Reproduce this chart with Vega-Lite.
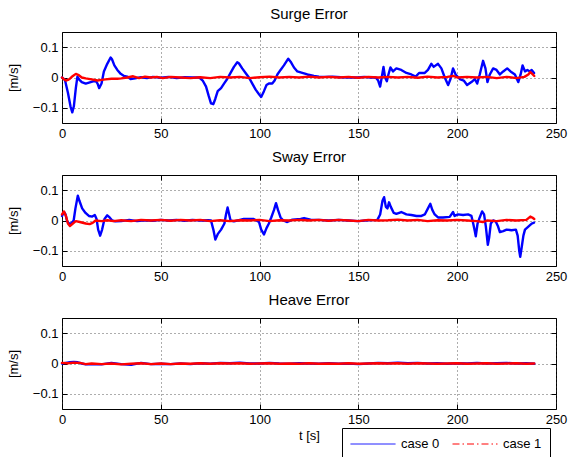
{
  "$schema": "https://vega.github.io/schema/vega-lite/v6.json",
  "background": "white",
  "padding": {"left": 6, "top": 6, "right": 5, "bottom": 0},
  "spacing": 8,
  "config": {
    "font": "Liberation Sans",
    "view": {"stroke": "black", "strokeWidth": 1},
    "axis": {
      "domain": false, "grid": true, "gridDash": [1, 3], "gridColor": "#333", "gridOpacity": 0.8,
      "ticks": true, "tickSize": -5, "tickColor": "black", "labelFontSize": 13, "labelColor": "black", "labelPadding": 9, "labelFlush": false,
      "titleFontSize": 13, "titleFontWeight": "normal", "titleColor": "black", "labelFont": "Liberation Sans", "titleFont": "Liberation Sans"
    },
    "title": {"fontSize": 15, "fontWeight": "normal", "color": "black", "offset": 10, "font": "Liberation Sans"},
    "line": {"strokeJoin": "round", "strokeCap": "round"}
  },
  "resolve": {"legend": {"color": "independent", "strokeDash": "independent"}},
  "datasets": {
    "surge": [
      {"t":0,"v":0,"c":"case 0"},{"t":1.5,"v":-0.008,"c":"case 0"},{"t":3,"v":-0.05,"c":"case 0"},{"t":4.3,"v":-0.095,"c":"case 0"},{"t":5.2,"v":-0.115,"c":"case 0"},{"t":6,"v":-0.095,"c":"case 0"},{"t":7,"v":-0.035,"c":"case 0"},{"t":7.8,"v":0.003,"c":"case 0"},{"t":8.6,"v":-0.006,"c":"case 0"},{"t":10,"v":-0.015,"c":"case 0"},{"t":12,"v":-0.02,"c":"case 0"},{"t":14.5,"v":-0.015,"c":"case 0"},{"t":17,"v":-0.01,"c":"case 0"},{"t":18,"v":-0.02,"c":"case 0"},{"t":18.8,"v":-0.035,"c":"case 0"},{"t":20,"v":-0.02,"c":"case 0"},{"t":21.2,"v":0.02,"c":"case 0"},{"t":22.9,"v":0.045,"c":"case 0"},{"t":24.6,"v":0.066,"c":"case 0"},{"t":25.3,"v":0.06,"c":"case 0"},{"t":26.5,"v":0.04,"c":"case 0"},{"t":28,"v":0.025,"c":"case 0"},{"t":29.7,"v":0.012,"c":"case 0"},{"t":31.4,"v":0.005,"c":"case 0"},{"t":33,"v":0.003,"c":"case 0"},{"t":34.7,"v":-0.005,"c":"case 0"},{"t":37,"v":-0.003,"c":"case 0"},{"t":40,"v":0.001,"c":"case 0"},{"t":43,"v":-0.002,"c":"case 0"},{"t":46,"v":0.002,"c":"case 0"},{"t":50,"v":-0.001,"c":"case 0"},{"t":54,"v":0.002,"c":"case 0"},{"t":58,"v":-0.002,"c":"case 0"},{"t":62,"v":0.001,"c":"case 0"},{"t":66,"v":0,"c":"case 0"},{"t":69.5,"v":0,"c":"case 0"},{"t":71.2,"v":-0.01,"c":"case 0"},{"t":72.9,"v":-0.03,"c":"case 0"},{"t":74.2,"v":-0.06,"c":"case 0"},{"t":75.4,"v":-0.085,"c":"case 0"},{"t":76.6,"v":-0.088,"c":"case 0"},{"t":77.6,"v":-0.07,"c":"case 0"},{"t":78.8,"v":-0.045,"c":"case 0"},{"t":80.5,"v":-0.035,"c":"case 0"},{"t":82,"v":-0.02,"c":"case 0"},{"t":83.6,"v":-0.005,"c":"case 0"},{"t":85.3,"v":0.015,"c":"case 0"},{"t":87,"v":0.035,"c":"case 0"},{"t":88.7,"v":0.05,"c":"case 0"},{"t":89.5,"v":0.047,"c":"case 0"},{"t":91.2,"v":0.03,"c":"case 0"},{"t":92.9,"v":0.015,"c":"case 0"},{"t":94.6,"v":0,"c":"case 0"},{"t":96.3,"v":-0.02,"c":"case 0"},{"t":98,"v":-0.04,"c":"case 0"},{"t":99.7,"v":-0.055,"c":"case 0"},{"t":100.8,"v":-0.064,"c":"case 0"},{"t":102.2,"v":-0.045,"c":"case 0"},{"t":103.5,"v":-0.025,"c":"case 0"},{"t":104.7,"v":-0.02,"c":"case 0"},{"t":106.4,"v":-0.02,"c":"case 0"},{"t":107.6,"v":-0.01,"c":"case 0"},{"t":109,"v":0.01,"c":"case 0"},{"t":110.6,"v":0.025,"c":"case 0"},{"t":112.3,"v":0.04,"c":"case 0"},{"t":114.5,"v":0.062,"c":"case 0"},{"t":115.7,"v":0.052,"c":"case 0"},{"t":117.4,"v":0.033,"c":"case 0"},{"t":119.1,"v":0.02,"c":"case 0"},{"t":121.6,"v":0.015,"c":"case 0"},{"t":124.2,"v":0.01,"c":"case 0"},{"t":127.5,"v":0.005,"c":"case 0"},{"t":130,"v":0.003,"c":"case 0"},{"t":133,"v":0.002,"c":"case 0"},{"t":137,"v":0.003,"c":"case 0"},{"t":141,"v":0.001,"c":"case 0"},{"t":145,"v":0,"c":"case 0"},{"t":149.5,"v":0,"c":"case 0"},{"t":153,"v":0.002,"c":"case 0"},{"t":156,"v":0,"c":"case 0"},{"t":158.8,"v":0,"c":"case 0"},{"t":160,"v":-0.01,"c":"case 0"},{"t":161,"v":-0.03,"c":"case 0"},{"t":161.8,"v":0,"c":"case 0"},{"t":162.7,"v":0.035,"c":"case 0"},{"t":163.5,"v":0,"c":"case 0"},{"t":164.4,"v":-0.012,"c":"case 0"},{"t":165.2,"v":0.01,"c":"case 0"},{"t":166.2,"v":0.033,"c":"case 0"},{"t":167.5,"v":0.02,"c":"case 0"},{"t":169.2,"v":0.03,"c":"case 0"},{"t":171.7,"v":0.025,"c":"case 0"},{"t":174.3,"v":0.015,"c":"case 0"},{"t":176.8,"v":0.01,"c":"case 0"},{"t":179,"v":0.003,"c":"case 0"},{"t":180.7,"v":0.015,"c":"case 0"},{"t":183.6,"v":0.015,"c":"case 0"},{"t":185.2,"v":0.025,"c":"case 0"},{"t":186.9,"v":0.045,"c":"case 0"},{"t":188.1,"v":0.035,"c":"case 0"},{"t":190.3,"v":0.045,"c":"case 0"},{"t":192,"v":0.03,"c":"case 0"},{"t":193.7,"v":0,"c":"case 0"},{"t":195.4,"v":-0.025,"c":"case 0"},{"t":196.6,"v":-0.005,"c":"case 0"},{"t":197.9,"v":0.03,"c":"case 0"},{"t":199.2,"v":0.01,"c":"case 0"},{"t":201.3,"v":-0.005,"c":"case 0"},{"t":203.3,"v":-0.01,"c":"case 0"},{"t":205,"v":-0.025,"c":"case 0"},{"t":207.2,"v":-0.015,"c":"case 0"},{"t":208.9,"v":-0.005,"c":"case 0"},{"t":210.1,"v":-0.02,"c":"case 0"},{"t":211.4,"v":0.01,"c":"case 0"},{"t":213.1,"v":0.055,"c":"case 0"},{"t":214.3,"v":0.03,"c":"case 0"},{"t":215.3,"v":-0.015,"c":"case 0"},{"t":216.5,"v":0.01,"c":"case 0"},{"t":218.2,"v":0.03,"c":"case 0"},{"t":219.9,"v":0.025,"c":"case 0"},{"t":221.6,"v":0.01,"c":"case 0"},{"t":223.3,"v":0.02,"c":"case 0"},{"t":225.3,"v":0.03,"c":"case 0"},{"t":227,"v":0.02,"c":"case 0"},{"t":229.2,"v":0.01,"c":"case 0"},{"t":230.9,"v":-0.015,"c":"case 0"},{"t":232.1,"v":0.01,"c":"case 0"},{"t":233.1,"v":0.04,"c":"case 0"},{"t":234.3,"v":0.02,"c":"case 0"},{"t":235.5,"v":0.025,"c":"case 0"},{"t":236.8,"v":0.02,"c":"case 0"},{"t":237.7,"v":0.025,"c":"case 0"},{"t":238.9,"v":0.015,"c":"case 0"},
      {"t":0,"v":0,"c":"case 1"},{"t":1,"v":-0.006,"c":"case 1"},{"t":2,"v":-0.01,"c":"case 1"},{"t":3,"v":-0.008,"c":"case 1"},{"t":4,"v":-0.004,"c":"case 1"},{"t":5.5,"v":0.005,"c":"case 1"},{"t":7,"v":0.012,"c":"case 1"},{"t":8.5,"v":0.008,"c":"case 1"},{"t":10,"v":0,"c":"case 1"},{"t":12,"v":-0.003,"c":"case 1"},{"t":15,"v":-0.006,"c":"case 1"},{"t":18,"v":-0.01,"c":"case 1"},{"t":20,"v":-0.008,"c":"case 1"},{"t":22,"v":-0.006,"c":"case 1"},{"t":25,"v":-0.004,"c":"case 1"},{"t":28,"v":-0.004,"c":"case 1"},{"t":30,"v":-0.003,"c":"case 1"},{"t":33,"v":0,"c":"case 1"},{"t":36,"v":0.004,"c":"case 1"},{"t":39,"v":-0.002,"c":"case 1"},{"t":42,"v":0.003,"c":"case 1"},{"t":45,"v":0,"c":"case 1"},{"t":48,"v":0.002,"c":"case 1"},{"t":51,"v":-0.002,"c":"case 1"},{"t":55,"v":0.002,"c":"case 1"},{"t":60,"v":0,"c":"case 1"},{"t":65,"v":-0.002,"c":"case 1"},{"t":70,"v":0.001,"c":"case 1"},{"t":75,"v":-0.002,"c":"case 1"},{"t":80,"v":0.002,"c":"case 1"},{"t":85,"v":0,"c":"case 1"},{"t":90,"v":0.002,"c":"case 1"},{"t":95,"v":-0.002,"c":"case 1"},{"t":100,"v":0.001,"c":"case 1"},{"t":105,"v":0.003,"c":"case 1"},{"t":110,"v":0,"c":"case 1"},{"t":115,"v":0.002,"c":"case 1"},{"t":120,"v":0,"c":"case 1"},{"t":125,"v":0.003,"c":"case 1"},{"t":130,"v":0,"c":"case 1"},{"t":135,"v":0.002,"c":"case 1"},{"t":140,"v":0,"c":"case 1"},{"t":145,"v":0.002,"c":"case 1"},{"t":150,"v":-0.001,"c":"case 1"},{"t":155,"v":0.002,"c":"case 1"},{"t":160,"v":0,"c":"case 1"},{"t":165,"v":0.002,"c":"case 1"},{"t":170,"v":0,"c":"case 1"},{"t":175,"v":0.002,"c":"case 1"},{"t":180,"v":-0.001,"c":"case 1"},{"t":185,"v":0.003,"c":"case 1"},{"t":190,"v":0,"c":"case 1"},{"t":195,"v":0.002,"c":"case 1"},{"t":198,"v":0.005,"c":"case 1"},{"t":200,"v":0,"c":"case 1"},{"t":205,"v":0.002,"c":"case 1"},{"t":210,"v":0,"c":"case 1"},{"t":215,"v":0.002,"c":"case 1"},{"t":220,"v":-0.002,"c":"case 1"},{"t":225,"v":0.002,"c":"case 1"},{"t":230,"v":-0.002,"c":"case 1"},{"t":234,"v":0.002,"c":"case 1"},{"t":236,"v":0.01,"c":"case 1"},{"t":237,"v":0.018,"c":"case 1"},{"t":238,"v":0.012,"c":"case 1"},{"t":239,"v":0.005,"c":"case 1"}
    ],
    "sway": [
      {"t":0,"v":0.015,"c":"case 0"},{"t":1,"v":0.028,"c":"case 0"},{"t":1.8,"v":0.02,"c":"case 0"},{"t":2.5,"v":0,"c":"case 0"},{"t":3.4,"v":-0.01,"c":"case 0"},{"t":4.7,"v":-0.01,"c":"case 0"},{"t":5.9,"v":0,"c":"case 0"},{"t":6.8,"v":0.04,"c":"case 0"},{"t":8,"v":0.082,"c":"case 0"},{"t":8.8,"v":0.065,"c":"case 0"},{"t":10.2,"v":0.04,"c":"case 0"},{"t":11.9,"v":0.025,"c":"case 0"},{"t":13.6,"v":0.015,"c":"case 0"},{"t":15.3,"v":0.013,"c":"case 0"},{"t":16.6,"v":0.018,"c":"case 0"},{"t":17.5,"v":0.005,"c":"case 0"},{"t":18.3,"v":-0.03,"c":"case 0"},{"t":19.3,"v":-0.05,"c":"case 0"},{"t":20.3,"v":-0.03,"c":"case 0"},{"t":21.5,"v":0.005,"c":"case 0"},{"t":22.9,"v":0.017,"c":"case 0"},{"t":24.1,"v":0.01,"c":"case 0"},{"t":25.4,"v":0,"c":"case 0"},{"t":27,"v":-0.003,"c":"case 0"},{"t":30,"v":-0.002,"c":"case 0"},{"t":34,"v":0.002,"c":"case 0"},{"t":38,"v":-0.002,"c":"case 0"},{"t":42,"v":0.001,"c":"case 0"},{"t":46,"v":-0.001,"c":"case 0"},{"t":50,"v":0.002,"c":"case 0"},{"t":54,"v":0,"c":"case 0"},{"t":58,"v":0.002,"c":"case 0"},{"t":62,"v":-0.001,"c":"case 0"},{"t":66,"v":0.002,"c":"case 0"},{"t":70,"v":0,"c":"case 0"},{"t":74,"v":0.001,"c":"case 0"},{"t":75.4,"v":0,"c":"case 0"},{"t":76.6,"v":-0.03,"c":"case 0"},{"t":77.6,"v":-0.063,"c":"case 0"},{"t":78.8,"v":-0.045,"c":"case 0"},{"t":80.5,"v":-0.03,"c":"case 0"},{"t":82.2,"v":-0.01,"c":"case 0"},{"t":83,"v":0.02,"c":"case 0"},{"t":83.8,"v":0.043,"c":"case 0"},{"t":85.3,"v":0,"c":"case 0"},{"t":87,"v":-0.003,"c":"case 0"},{"t":92,"v":0.005,"c":"case 0"},{"t":97,"v":0.005,"c":"case 0"},{"t":99.7,"v":-0.005,"c":"case 0"},{"t":100.8,"v":-0.03,"c":"case 0"},{"t":102.2,"v":-0.046,"c":"case 0"},{"t":103.5,"v":-0.025,"c":"case 0"},{"t":104.7,"v":-0.01,"c":"case 0"},{"t":105.9,"v":0.01,"c":"case 0"},{"t":107.3,"v":0.035,"c":"case 0"},{"t":108.3,"v":0.057,"c":"case 0"},{"t":109.3,"v":0.035,"c":"case 0"},{"t":110.6,"v":0.01,"c":"case 0"},{"t":112,"v":0,"c":"case 0"},{"t":114,"v":-0.005,"c":"case 0"},{"t":116.6,"v":0.003,"c":"case 0"},{"t":120.8,"v":0.005,"c":"case 0"},{"t":122.5,"v":0.008,"c":"case 0"},{"t":125.8,"v":0.003,"c":"case 0"},{"t":130,"v":0.002,"c":"case 0"},{"t":135,"v":0,"c":"case 0"},{"t":140,"v":0.002,"c":"case 0"},{"t":145,"v":0,"c":"case 0"},{"t":150,"v":-0.002,"c":"case 0"},{"t":155,"v":0.001,"c":"case 0"},{"t":159.6,"v":0.002,"c":"case 0"},{"t":161,"v":0.02,"c":"case 0"},{"t":162.2,"v":0.065,"c":"case 0"},{"t":163,"v":0.077,"c":"case 0"},{"t":163.9,"v":0.045,"c":"case 0"},{"t":164.7,"v":0.04,"c":"case 0"},{"t":165.5,"v":0.06,"c":"case 0"},{"t":166.4,"v":0.045,"c":"case 0"},{"t":167.9,"v":0.025,"c":"case 0"},{"t":169.2,"v":0.022,"c":"case 0"},{"t":171.7,"v":0.028,"c":"case 0"},{"t":174.3,"v":0.02,"c":"case 0"},{"t":176.8,"v":0.018,"c":"case 0"},{"t":179.4,"v":0.015,"c":"case 0"},{"t":181.9,"v":0.015,"c":"case 0"},{"t":183.6,"v":0.02,"c":"case 0"},{"t":185.2,"v":0.04,"c":"case 0"},{"t":186.4,"v":0.055,"c":"case 0"},{"t":187.4,"v":0.035,"c":"case 0"},{"t":188.6,"v":0.02,"c":"case 0"},{"t":190.3,"v":0.01,"c":"case 0"},{"t":192.8,"v":0.01,"c":"case 0"},{"t":196.2,"v":0.012,"c":"case 0"},{"t":197.9,"v":0.028,"c":"case 0"},{"t":198.7,"v":0.015,"c":"case 0"},{"t":200.4,"v":0.02,"c":"case 0"},{"t":203,"v":0.018,"c":"case 0"},{"t":205.5,"v":0.02,"c":"case 0"},{"t":207.2,"v":0.015,"c":"case 0"},{"t":208.1,"v":-0.01,"c":"case 0"},{"t":208.9,"v":-0.035,"c":"case 0"},{"t":209.4,"v":-0.052,"c":"case 0"},{"t":210.3,"v":-0.01,"c":"case 0"},{"t":211.4,"v":0.01,"c":"case 0"},{"t":212.6,"v":0.03,"c":"case 0"},{"t":213.6,"v":0.02,"c":"case 0"},{"t":214.5,"v":-0.02,"c":"case 0"},{"t":215.5,"v":-0.08,"c":"case 0"},{"t":216.2,"v":-0.055,"c":"case 0"},{"t":217,"v":-0.01,"c":"case 0"},{"t":218.2,"v":0,"c":"case 0"},{"t":219.5,"v":-0.003,"c":"case 0"},{"t":220.7,"v":-0.02,"c":"case 0"},{"t":221.6,"v":-0.038,"c":"case 0"},{"t":223.3,"v":-0.035,"c":"case 0"},{"t":225,"v":-0.03,"c":"case 0"},{"t":227.5,"v":-0.032,"c":"case 0"},{"t":229.7,"v":-0.03,"c":"case 0"},{"t":230.6,"v":-0.05,"c":"case 0"},{"t":231.4,"v":-0.1,"c":"case 0"},{"t":231.9,"v":-0.12,"c":"case 0"},{"t":232.6,"v":-0.09,"c":"case 0"},{"t":233.5,"v":-0.05,"c":"case 0"},{"t":234.3,"v":-0.03,"c":"case 0"},{"t":236,"v":-0.02,"c":"case 0"},{"t":237.7,"v":-0.01,"c":"case 0"},{"t":238.9,"v":-0.007,"c":"case 0"},
      {"t":0,"v":0.02,"c":"case 1"},{"t":1,"v":0.03,"c":"case 1"},{"t":2,"v":0.015,"c":"case 1"},{"t":3,"v":-0.01,"c":"case 1"},{"t":4,"v":-0.018,"c":"case 1"},{"t":5.5,"v":-0.01,"c":"case 1"},{"t":7,"v":-0.002,"c":"case 1"},{"t":9,"v":-0.005,"c":"case 1"},{"t":12,"v":-0.01,"c":"case 1"},{"t":14,"v":-0.012,"c":"case 1"},{"t":15.5,"v":-0.008,"c":"case 1"},{"t":17,"v":0,"c":"case 1"},{"t":20,"v":-0.002,"c":"case 1"},{"t":23,"v":0.001,"c":"case 1"},{"t":26,"v":-0.002,"c":"case 1"},{"t":30,"v":0.001,"c":"case 1"},{"t":35,"v":-0.002,"c":"case 1"},{"t":40,"v":0.002,"c":"case 1"},{"t":45,"v":0,"c":"case 1"},{"t":50,"v":0.002,"c":"case 1"},{"t":55,"v":-0.001,"c":"case 1"},{"t":60,"v":0.002,"c":"case 1"},{"t":65,"v":0,"c":"case 1"},{"t":70,"v":0.002,"c":"case 1"},{"t":75,"v":-0.002,"c":"case 1"},{"t":80,"v":0.001,"c":"case 1"},{"t":85,"v":-0.002,"c":"case 1"},{"t":90,"v":0.001,"c":"case 1"},{"t":95,"v":0,"c":"case 1"},{"t":100,"v":0.002,"c":"case 1"},{"t":105,"v":-0.002,"c":"case 1"},{"t":110,"v":0.001,"c":"case 1"},{"t":115,"v":0,"c":"case 1"},{"t":120,"v":0.002,"c":"case 1"},{"t":125,"v":0,"c":"case 1"},{"t":130,"v":0.002,"c":"case 1"},{"t":135,"v":-0.001,"c":"case 1"},{"t":140,"v":0.002,"c":"case 1"},{"t":145,"v":0,"c":"case 1"},{"t":150,"v":-0.002,"c":"case 1"},{"t":155,"v":0.002,"c":"case 1"},{"t":160,"v":0,"c":"case 1"},{"t":165,"v":0.001,"c":"case 1"},{"t":170,"v":0.003,"c":"case 1"},{"t":175,"v":0,"c":"case 1"},{"t":180,"v":0.002,"c":"case 1"},{"t":185,"v":-0.002,"c":"case 1"},{"t":190,"v":0.001,"c":"case 1"},{"t":195,"v":0,"c":"case 1"},{"t":200,"v":0.002,"c":"case 1"},{"t":205,"v":0,"c":"case 1"},{"t":210,"v":-0.002,"c":"case 1"},{"t":213,"v":-0.005,"c":"case 1"},{"t":215,"v":0,"c":"case 1"},{"t":220,"v":-0.002,"c":"case 1"},{"t":225,"v":0.002,"c":"case 1"},{"t":230,"v":0,"c":"case 1"},{"t":235,"v":0.002,"c":"case 1"},{"t":237,"v":0.013,"c":"case 1"},{"t":238,"v":0.01,"c":"case 1"},{"t":239,"v":0.005,"c":"case 1"}
    ],
    "heave": [
      {"t":0,"v":0,"c":"case 0"},{"t":2,"v":0.002,"c":"case 0"},{"t":4,"v":0.004,"c":"case 0"},{"t":6,"v":0.005,"c":"case 0"},{"t":8,"v":0.004,"c":"case 0"},{"t":10,"v":0,"c":"case 0"},{"t":12,"v":-0.003,"c":"case 0"},{"t":15,"v":-0.002,"c":"case 0"},{"t":20,"v":-0.003,"c":"case 0"},{"t":25,"v":0.002,"c":"case 0"},{"t":30,"v":-0.002,"c":"case 0"},{"t":35,"v":-0.004,"c":"case 0"},{"t":40,"v":0.002,"c":"case 0"},{"t":45,"v":-0.002,"c":"case 0"},{"t":50,"v":-0.001,"c":"case 0"},{"t":55,"v":-0.002,"c":"case 0"},{"t":60,"v":0,"c":"case 0"},{"t":65,"v":-0.002,"c":"case 0"},{"t":70,"v":0.001,"c":"case 0"},{"t":75,"v":-0.001,"c":"case 0"},{"t":80,"v":0.002,"c":"case 0"},{"t":85,"v":0.001,"c":"case 0"},{"t":90,"v":0.003,"c":"case 0"},{"t":95,"v":0,"c":"case 0"},{"t":100,"v":0,"c":"case 0"},{"t":105,"v":0.002,"c":"case 0"},{"t":110,"v":0,"c":"case 0"},{"t":115,"v":-0.001,"c":"case 0"},{"t":120,"v":0.001,"c":"case 0"},{"t":125,"v":0,"c":"case 0"},{"t":130,"v":-0.001,"c":"case 0"},{"t":135,"v":0.001,"c":"case 0"},{"t":140,"v":-0.001,"c":"case 0"},{"t":145,"v":0,"c":"case 0"},{"t":150,"v":-0.002,"c":"case 0"},{"t":155,"v":0,"c":"case 0"},{"t":160,"v":0.002,"c":"case 0"},{"t":165,"v":0.001,"c":"case 0"},{"t":170,"v":0.003,"c":"case 0"},{"t":175,"v":0.001,"c":"case 0"},{"t":180,"v":0.002,"c":"case 0"},{"t":185,"v":0,"c":"case 0"},{"t":190,"v":0.001,"c":"case 0"},{"t":195,"v":-0.001,"c":"case 0"},{"t":200,"v":0.001,"c":"case 0"},{"t":205,"v":0,"c":"case 0"},{"t":210,"v":0.002,"c":"case 0"},{"t":215,"v":0,"c":"case 0"},{"t":220,"v":0.001,"c":"case 0"},{"t":225,"v":0.002,"c":"case 0"},{"t":230,"v":0,"c":"case 0"},{"t":235,"v":0.001,"c":"case 0"},{"t":239,"v":-0.001,"c":"case 0"},
      {"t":0,"v":0.002,"c":"case 1"},{"t":3,"v":0.001,"c":"case 1"},{"t":6,"v":0.003,"c":"case 1"},{"t":9,"v":0.002,"c":"case 1"},{"t":12,"v":-0.002,"c":"case 1"},{"t":15,"v":0,"c":"case 1"},{"t":20,"v":-0.002,"c":"case 1"},{"t":25,"v":0,"c":"case 1"},{"t":30,"v":-0.003,"c":"case 1"},{"t":35,"v":-0.001,"c":"case 1"},{"t":40,"v":0.001,"c":"case 1"},{"t":45,"v":-0.002,"c":"case 1"},{"t":50,"v":0,"c":"case 1"},{"t":55,"v":-0.002,"c":"case 1"},{"t":60,"v":0,"c":"case 1"},{"t":65,"v":-0.001,"c":"case 1"},{"t":70,"v":0.001,"c":"case 1"},{"t":75,"v":-0.001,"c":"case 1"},{"t":80,"v":0.001,"c":"case 1"},{"t":85,"v":0,"c":"case 1"},{"t":90,"v":0.001,"c":"case 1"},{"t":95,"v":-0.001,"c":"case 1"},{"t":100,"v":0,"c":"case 1"},{"t":105,"v":0.001,"c":"case 1"},{"t":110,"v":-0.001,"c":"case 1"},{"t":115,"v":0,"c":"case 1"},{"t":120,"v":-0.001,"c":"case 1"},{"t":125,"v":0.001,"c":"case 1"},{"t":130,"v":-0.001,"c":"case 1"},{"t":135,"v":0,"c":"case 1"},{"t":140,"v":-0.001,"c":"case 1"},{"t":145,"v":0.001,"c":"case 1"},{"t":150,"v":-0.001,"c":"case 1"},{"t":155,"v":0,"c":"case 1"},{"t":160,"v":0.001,"c":"case 1"},{"t":165,"v":0,"c":"case 1"},{"t":170,"v":0.001,"c":"case 1"},{"t":175,"v":-0.001,"c":"case 1"},{"t":180,"v":0.001,"c":"case 1"},{"t":185,"v":0,"c":"case 1"},{"t":190,"v":-0.001,"c":"case 1"},{"t":195,"v":0,"c":"case 1"},{"t":200,"v":0.001,"c":"case 1"},{"t":205,"v":-0.001,"c":"case 1"},{"t":210,"v":0,"c":"case 1"},{"t":215,"v":0.001,"c":"case 1"},{"t":220,"v":-0.001,"c":"case 1"},{"t":225,"v":0,"c":"case 1"},{"t":230,"v":0.001,"c":"case 1"},{"t":235,"v":-0.001,"c":"case 1"},{"t":239,"v":0,"c":"case 1"}
    ]
  },
  "vconcat": [
    {
      "title": "Surge Error",
      "width": 494, "height": 91,
      "data": {"name": "surge"},
      "resolve": {"axis": {"x": "independent", "y": "independent"}},
      "layer": [
        {
          "mark": {"type": "line", "strokeWidth": 2.4},
          "encoding": {
            "x": {"field": "t", "type": "quantitative", "scale": {"domain": [0, 250], "nice": false}, "axis": {"values": [0, 50, 100, 150, 200, 250], "title": null}},
            "y": {"field": "v", "type": "quantitative", "scale": {"domain": [-0.15, 0.15], "nice": false}, "axis": {"values": [-0.1, 0, 0.1], "format": ".1~f", "title": "[m/s]", "titlePadding": 12}},
            "color": {"field": "c", "type": "nominal", "scale": {"domain": ["case 0", "case 1"], "range": ["#0000ff", "#ff0000"]}, "legend": null}
          }
        },
        {
          "mark": {"type": "point", "opacity": 0},
          "encoding": {
            "x": {"field": "t", "type": "quantitative", "axis": {"orient": "top", "values": [0, 50, 100, 150, 200, 250], "labels": false, "grid": false, "title": null}},
            "y": {"field": "v", "type": "quantitative", "axis": {"orient": "right", "values": [-0.1, 0, 0.1], "labels": false, "grid": false, "title": null}}
          }
        }
      ]
    },
    {
      "title": "Sway Error",
      "width": 494, "height": 91,
      "data": {"name": "sway"},
      "resolve": {"axis": {"x": "independent", "y": "independent"}},
      "layer": [
        {
          "mark": {"type": "line", "strokeWidth": 2.4},
          "encoding": {
            "x": {"field": "t", "type": "quantitative", "scale": {"domain": [0, 250], "nice": false}, "axis": {"values": [0, 50, 100, 150, 200, 250], "title": null}},
            "y": {"field": "v", "type": "quantitative", "scale": {"domain": [-0.15, 0.15], "nice": false}, "axis": {"values": [-0.1, 0, 0.1], "format": ".1~f", "title": "[m/s]", "titlePadding": 12}},
            "color": {"field": "c", "type": "nominal", "scale": {"domain": ["case 0", "case 1"], "range": ["#0000ff", "#ff0000"]}, "legend": null}
          }
        },
        {
          "mark": {"type": "point", "opacity": 0},
          "encoding": {
            "x": {"field": "t", "type": "quantitative", "axis": {"orient": "top", "values": [0, 50, 100, 150, 200, 250], "labels": false, "grid": false, "title": null}},
            "y": {"field": "v", "type": "quantitative", "axis": {"orient": "right", "values": [-0.1, 0, 0.1], "labels": false, "grid": false, "title": null}}
          }
        }
      ]
    },
    {
      "title": "Heave Error",
      "width": 494, "height": 91,
      "data": {"name": "heave"},
      "resolve": {"axis": {"x": "independent", "y": "independent"}},
      "layer": [
        {
          "mark": {"type": "line", "strokeWidth": 2.4},
          "encoding": {
            "x": {"field": "t", "type": "quantitative", "scale": {"domain": [0, 250], "nice": false}, "axis": {"values": [0, 50, 100, 150, 200, 250], "title": "t [s]", "titlePadding": 3}},
            "y": {"field": "v", "type": "quantitative", "scale": {"domain": [-0.15, 0.15], "nice": false}, "axis": {"values": [-0.1, 0, 0.1], "format": ".1~f", "title": "[m/s]", "titlePadding": 12}},
            "color": {"field": "c", "type": "nominal", "scale": {"domain": ["case 0", "case 1"], "range": ["#0000ff", "#ff0000"]}}
          }
        },
        {
          "mark": {"type": "point", "opacity": 0},
          "encoding": {
            "x": {"field": "t", "type": "quantitative", "axis": {"orient": "top", "values": [0, 50, 100, 150, 200, 250], "labels": false, "grid": false, "title": null}},
            "y": {"field": "v", "type": "quantitative", "axis": {"orient": "right", "values": [-0.1, 0, 0.1], "labels": false, "grid": false, "title": null}}
          }
        },
        {
          "transform": [{"filter": "datum.t < 0"}],
          "mark": {"type": "line", "strokeWidth": 1},
          "encoding": {
            "x": {"field": "t", "type": "quantitative", "axis": null},
            "y": {"field": "v", "type": "quantitative", "axis": null},
            "color": {"field": "c", "type": "nominal",
              "legend": {"orient": "none", "legendX": 280, "legendY": 110, "direction": "horizontal", "title": null, "symbolType": "stroke", "symbolSize": 2025, "symbolStrokeWidth": 1, "clipHeight": 16, "labelFontSize": 13, "labelColor": "black", "labelOffset": 5, "columnPadding": 12, "strokeColor": "black", "padding": 8, "fillColor": "white"}},
            "strokeDash": {"field": "c", "type": "nominal", "scale": {"domain": ["case 0", "case 1"], "range": [[1, 0], [7, 3, 1.5, 3]]},
              "legend": {"orient": "none", "legendX": 280, "legendY": 110, "direction": "horizontal", "title": null, "symbolType": "stroke", "symbolSize": 2025, "symbolStrokeWidth": 1, "clipHeight": 16, "labelFontSize": 13, "labelColor": "black", "labelOffset": 5, "columnPadding": 12, "strokeColor": "black", "padding": 8, "fillColor": "white"}}
          }
        }
      ]
    }
  ]
}
